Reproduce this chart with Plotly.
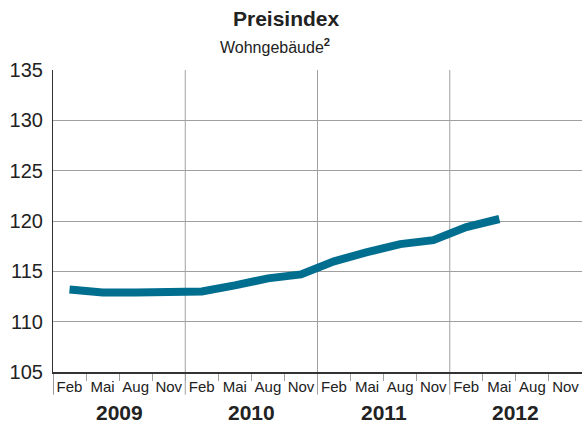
import plotly.graph_objects as go

years = ["2009", "2010", "2011", "2012"]
months = ["Feb", "Mai", "Aug", "Nov"]
index_values = [113.2, 112.9, 112.9, 112.9,
                113.0, 113.6, 114.3, 114.7,
                116.0, 116.9, 117.7, 118.1,
                119.4, 120.2]
y_ticks = [105, 110, 115, 120, 125, 130, 135]

n_q = len(years) * len(months)
quarter_pos = list(range(n_q))
tick_text = months * len(years)
x_data = quarter_pos[:len(index_values)]

font_family = "Liberation Sans, Arial, sans-serif"
grid_col = "#a0a0a0"
axis_col = "#333"
txt_col = "#222"

fig = go.Figure()
fig.add_trace(go.Scatter(
    x=x_data, y=index_values, mode="lines",
    line=dict(color="#006e8f", width=8),
    hoverinfo="skip", showlegend=False,
))

boundaries = [q - 0.5 for q in range(n_q + 1)]
year_bounds = [i * len(months) - 0.5 for i in range(len(years))]

shapes = []
for i, xb in enumerate(year_bounds):
    shapes.append(dict(type="line", xref="x", yref="paper", x0=xb, x1=xb,
                       y0=-0.075, y1=(0 if i == 0 else 1),
                       line=dict(color=(axis_col if i == 0 else grid_col), width=1),
                       layer="below"))

annotations = []
for i, yr in enumerate(years):
    annotations.append(dict(x=i * len(months) + 1.5, y=-0.135, xref="x", yref="paper",
                            text="<b>" + yr + "</b>", showarrow=False, yanchor="middle",
                            font=dict(size=21, color=txt_col, family=font_family)))
annotations.append(dict(x=0.442, xref="paper", y=1.172, yref="paper", yanchor="middle",
                        text="<b>Preisindex</b>", showarrow=False,
                        font=dict(size=21, color=txt_col, family=font_family)))
annotations.append(dict(x=0.42, xref="paper", y=1.08, yref="paper", yanchor="middle",
                        text="Wohngebäude<b><sup>2</sup></b>", showarrow=False,
                        font=dict(size=16, color=txt_col, family=font_family)))

fig.update_layout(
    width=582, height=430,
    margin=dict(l=53, r=0, t=70, b=58),
    paper_bgcolor="white", plot_bgcolor="white",
    shapes=shapes,
    annotations=annotations,
    xaxis=dict(
        range=[-0.5, n_q - 0.5], tickmode="array", tickvals=quarter_pos, ticktext=tick_text,
        showgrid=False, zeroline=False, ticks="", ticklen=0, automargin=False,
        tickfont=dict(size=15, color=txt_col, family=font_family),
        showline=True, linecolor=axis_col, linewidth=1.5,
        minor=dict(tickvals=boundaries, ticks="outside", ticklen=7, tickcolor=grid_col, tickwidth=1),
    ),
    yaxis=dict(
        range=[105, 135], tickmode="array", tickvals=y_ticks, automargin=False,
        showgrid=True, gridcolor=grid_col, gridwidth=1, zeroline=False,
        ticks="outside", ticklen=5, tickcolor="rgba(0,0,0,0)",
        showline=True, linecolor=axis_col, linewidth=1.2,
        tickfont=dict(size=20, color=txt_col, family=font_family),
    ),
)

fig.write_html("out.html", config={"displayModeBar": False},
               post_script="document.body.style.margin='0';document.body.style.overflow='hidden';")
